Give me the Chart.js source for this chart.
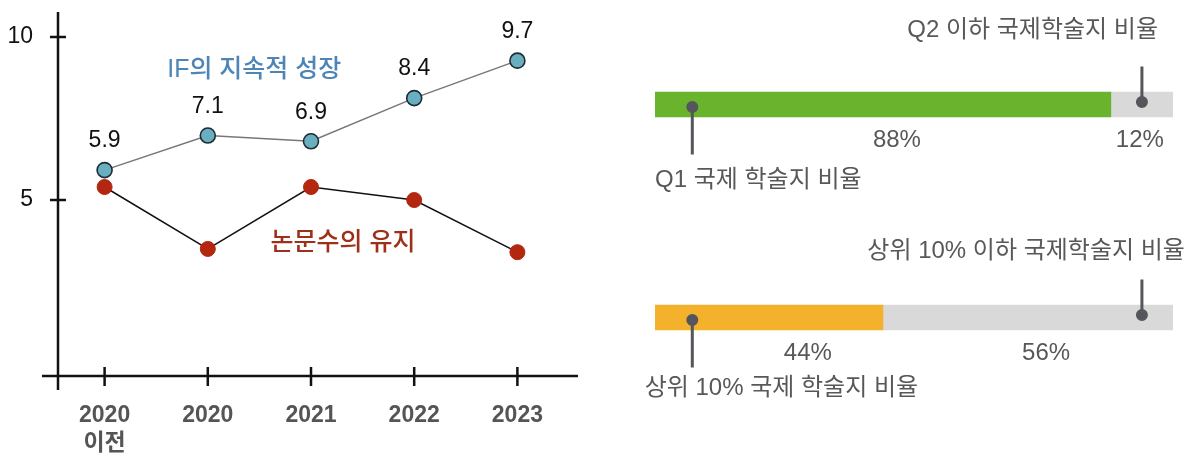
<!DOCTYPE html>
<html>
<head>
<meta charset="utf-8">
<script src="https://cdn.jsdelivr.net/npm/chart.js@4"></script>
<style>
  html, body { margin: 0; padding: 0; background: #fff; }
  body { width: 1195px; height: 461px; position: relative; overflow: hidden; }
  #lineWrap { position: absolute; left: 0; top: 0; width: 600px; height: 461px; }
  #barWrap { position: absolute; left: 600px; top: -2px; width: 595px; height: 461px; }
</style>
</head>
<body>
<div id="lineWrap"><canvas id="lineChart" width="600" height="461"></canvas></div>
<div id="barWrap"><canvas id="barChart" width="595" height="461"></canvas></div>
<script>
// ---- left chart data ----
const years = [['2020', '이전'], '2020', '2021', '2022', '2023'];
const ifValues = [5.9, 7.1, 6.9, 8.4, 9.7];
const paperValues = [5.4, 3.5, 5.4, 5.0, 3.4];
const yTicks = [5, 10];
const ifSeriesName = 'IF의 지속적 성장';
const paperSeriesName = '논문수의 유지';

// ---- right chart data ----
const rowNames = ['Q1', '상위 10%'];
const topShare = [88, 44];
const restShare = [12, 56];
const lowLabels = ['Q1 국제 학술지 비율', '상위 10% 국제 학술지 비율'];
const highLabels = ['Q2 이하 국제학술지 비율', '상위 10% 이하 국제학술지 비율'];

const FONT = 'Liberation Sans, "Noto Sans CJK KR", sans-serif';

/**
 * Axis lines with crossing tick marks + floating series names
 */
const lineDecor = {
    id: 'lineDecor',
    beforeDatasetsDraw(chart) {
        const { ctx, chartArea, scales } = chart;
        const x = scales.x, y = scales.y;
        const axisX = chartArea.left + 5;
        ctx.save();
        ctx.strokeStyle = '#111';
        ctx.lineWidth = 2.5;
        ctx.beginPath();
        ctx.moveTo(axisX, chartArea.top);
        ctx.lineTo(axisX, chartArea.bottom + 14);
        ctx.moveTo(chartArea.left - 11, chartArea.bottom);
        ctx.lineTo(chartArea.right + 9, chartArea.bottom);
        yTicks.forEach(v => {
            const py = y.getPixelForValue(v);
            ctx.moveTo(axisX - 8, py);
            ctx.lineTo(axisX + 8, py);
        });
        years.forEach((_, i) => {
            const px = x.getPixelForValue(i);
            ctx.moveTo(px, chartArea.bottom - 9);
            ctx.lineTo(px, chartArea.bottom + 10);
        });
        ctx.stroke();
        ctx.restore();
    },
    afterDatasetsDraw(chart) {
        const { ctx, scales } = chart;
        const x = scales.x, y = scales.y, y2 = scales.y2;
        const step = x.getPixelForValue(1) - x.getPixelForValue(0);
        ctx.save();
        ctx.textAlign = 'center';
        ctx.textBaseline = 'middle';

        // value labels above the IF points
        ctx.font = '23px ' + FONT;
        ctx.fillStyle = '#111';
        ifValues.forEach((v, i) => {
            ctx.fillText(v.toFixed(1), x.getPixelForValue(i), y2.getPixelForValue(v) - 29);
        });

        ctx.font = '500 25px ' + FONT;
        ctx.fillStyle = '#4d86b6';
        ctx.fillText(ifSeriesName, x.getPixelForValue(1) + step * 0.45, y.getPixelForValue(9.0));
        ctx.fillStyle = '#9e3019';
        ctx.fillText(paperSeriesName, x.getPixelForValue(2) + step * 0.31, y.getPixelForValue(3.68));
        ctx.restore();
    }
};

new Chart(document.getElementById('lineChart'), {
    type: 'line',
    data: {
        labels: years,
        datasets: [
            {
                data: paperValues,
                yAxisID: 'y',
                borderColor: '#111',
                borderWidth: 1.5,
                backgroundColor: '#b3260f',
                pointBackgroundColor: '#b3260f',
                pointBorderColor: '#b3260f',
                pointBorderWidth: 1,
                pointRadius: 7.5,
                tension: 0
            },
            {
                data: ifValues,
                yAxisID: 'y2',
                borderColor: '#777',
                borderWidth: 1.5,
                backgroundColor: '#6aafc0',
                pointBackgroundColor: '#6aafc0',
                pointBorderColor: '#1d2b33',
                pointBorderWidth: 1.6,
                pointRadius: 7.5,
                tension: 0
            }
        ]
    },
    options: {
        responsive: false,
        animation: false,
        devicePixelRatio: 1,
        layout: { padding: { top: 12, right: 31, left: 0, bottom: 0 } },
        plugins: { legend: { display: false }, tooltip: { enabled: false } },
        scales: {
            x: {
                type: 'category',
                offset: true,
                grid: { display: false, drawTicks: false },
                border: { display: false },
                ticks: {
                    color: '#555',
                    padding: 26,
                    maxRotation: 0,
                    autoSkip: false,
                    font: { family: FONT, size: 23, weight: 'bold', lineHeight: 1.2 }
                },
                afterFit: s => { s.height = 85; s.paddingLeft = 0; s.paddingRight = 0; }
            },
            y: {
                min: -0.4,
                max: 10.77,
                grid: { display: false, drawTicks: false },
                border: { display: false },
                ticks: {
                    color: '#111',
                    padding: 20,
                    font: { family: FONT, size: 23 }
                },
                afterBuildTicks: s => { s.ticks = yTicks.map(v => ({ value: v })); },
                afterFit: s => { s.width = 53; s.paddingTop = 0; s.paddingBottom = 0; }
            },
            y2: {
                display: false,
                min: -1.25,
                max: 11.39
            }
        }
    },
    plugins: [lineDecor]
});

/**
 * Pins, callout texts and percentages for the share bars
 */
const barDecor = {
    id: 'barDecor',
    afterDatasetsDraw(chart) {
        const { ctx, scales } = chart;
        const x = scales.x, y = scales.y;
        const pctAnchors = [[46.7, 93.6], [29.5, 75.5]];
        const lowOffsets = [76, 71];
        const highOffsets = [-74, -66];
        const lowTextX = [0, -2];
        const highTextX = [97.1, 102.3];
        ctx.save();
        ctx.font = '24px ' + FONT;
        ctx.fillStyle = '#58585a';
        ctx.textBaseline = 'middle';

        rowNames.forEach((_, i) => {
            const cy = y.getPixelForValue(i);

            // percentage labels
            ctx.textAlign = 'center';
            ctx.fillText(topShare[i] + '%', x.getPixelForValue(pctAnchors[i][0]), cy + 36);
            ctx.fillText(restShare[i] + '%', x.getPixelForValue(pctAnchors[i][1]), cy + 36);

            // pins
            ctx.strokeStyle = '#54565b';
            ctx.fillStyle = '#54565b';
            ctx.lineWidth = 3;
            const lx = x.getPixelForValue(7.2);
            const hx = x.getPixelForValue(94);
            ctx.beginPath();
            ctx.moveTo(lx, cy + 2);
            ctx.lineTo(lx, cy + 50);
            ctx.moveTo(hx, cy - 2);
            ctx.lineTo(hx, cy - 38);
            ctx.stroke();
            ctx.beginPath();
            ctx.arc(lx, cy + 2.5, 6, 0, Math.PI * 2);
            ctx.arc(hx, cy - 2.5, 6, 0, Math.PI * 2);
            ctx.fill();

            // callout texts
            ctx.fillStyle = '#58585a';
            ctx.textAlign = 'left';
            ctx.fillText(lowLabels[i], x.getPixelForValue(lowTextX[i]), cy + lowOffsets[i]);
            ctx.textAlign = 'right';
            ctx.fillText(highLabels[i], x.getPixelForValue(highTextX[i]), cy + highOffsets[i]);
        });
        ctx.restore();
    }
};

new Chart(document.getElementById('barChart'), {
    type: 'bar',
    data: {
        labels: rowNames,
        datasets: [
            {
                data: topShare,
                backgroundColor: ['#6ab42d', '#f3b12c'],
                barThickness: 25,
                borderWidth: 0
            },
            {
                data: restShare,
                backgroundColor: '#d9d9d9',
                barThickness: 25,
                borderWidth: 0
            }
        ]
    },
    options: {
        indexAxis: 'y',
        responsive: false,
        animation: false,
        devicePixelRatio: 1,
        layout: { padding: { top: 0, right: 22, left: 55, bottom: 35 } },
        plugins: { legend: { display: false }, tooltip: { enabled: false } },
        scales: {
            x: { display: false, stacked: true, min: 0, max: 100 },
            y: { display: false, stacked: true, offset: true }
        }
    },
    plugins: [barDecor]
});
</script>
</body>
</html>
